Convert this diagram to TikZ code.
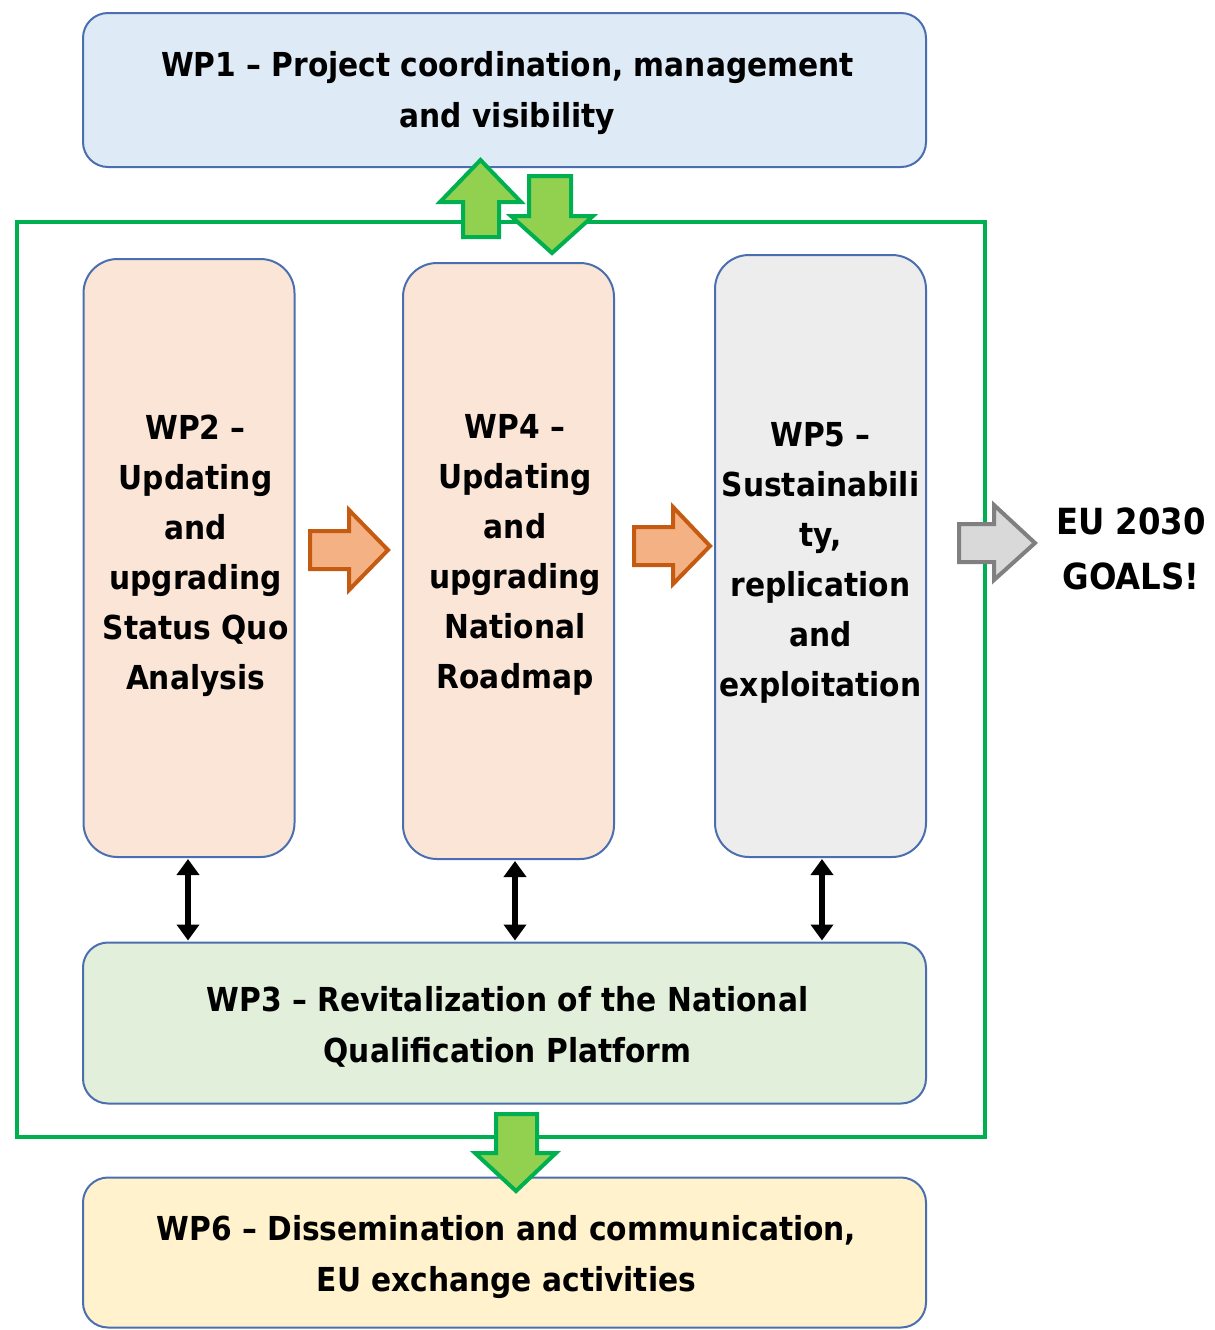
\documentclass[tikz,border=0pt]{standalone}
\usepackage{fontspec}
\setmainfont{DejaVu Sans Condensed}[BoldFont={DejaVu Sans Condensed Bold}]
\usetikzlibrary{arrows.meta}
\definecolor{bordblue}{RGB}{74,110,176}
\definecolor{wpone}{RGB}{222,235,247}
\definecolor{wporange}{RGB}{251,229,214}
\definecolor{wpgrey}{RGB}{237,237,237}
\definecolor{wpgreen}{RGB}{226,239,218}
\definecolor{wpyellow}{RGB}{255,242,204}
\definecolor{frgreen}{RGB}{0,176,80}
\definecolor{ltgreen}{RGB}{146,208,80}
\definecolor{orfill}{RGB}{244,177,131}
\definecolor{ordraw}{RGB}{197,90,17}
\definecolor{gyfill}{RGB}{217,217,217}
\definecolor{gydraw}{RGB}{128,128,128}
\tikzset{
  wptext/.style={font=\bfseries\fontsize{16.5pt}{25pt}\selectfont, align=center, text=black, inner sep=0pt},
  widetext/.style={wptext, font=\bfseries\fontsize{16.5pt}{25.5pt}\selectfont},
  wpbox/.style={draw=bordblue, line width=1pt, inner sep=0pt},
  widebox/.style={wpbox, rounded corners=12.5pt, minimum width=421.5pt},
  tallbox/.style={wpbox, rounded corners=17pt, minimum width=105.5pt},
  garrow/.style={fill=ltgreen, draw=frgreen, line width=2pt, line join=miter},
  oarrow/.style={fill=orfill, draw=ordraw, line width=2pt, line join=miter},
  gyarrow/.style={fill=gyfill, draw=gydraw, line width=2pt, line join=miter},
  dbl/.style={line width=2.8pt, {Triangle[width=11pt,length=8pt]}-{Triangle[width=11pt,length=8pt]}, shorten <=0.5pt, shorten >=0.5pt}
}
\begin{document}
\begin{tikzpicture}[x=0.5pt,y=-0.5pt]
\useasboundingbox (0,0) rectangle (1215,1330);
% green frame
\draw[frgreen, line width=2pt] (17,222) rectangle (985,1137);
% boxes
\node[widebox, fill=wpone, minimum height=77pt] (wp1) at (504.5,90) {};
\node[tallbox, fill=wporange, minimum height=299pt] (wp2) at (189,558) {};
\node[tallbox, fill=wporange, minimum height=298pt] (wp4) at (508.5,561) {};
\node[tallbox, fill=wpgrey, minimum height=301pt] (wp5) at (820.5,556) {};
\node[widebox, fill=wpgreen, minimum height=80.5pt] (wp3) at (504.5,1023) {};
\node[widebox, fill=wpyellow, minimum height=75pt] (wp6) at (504.5,1252.5) {};
% texts
\node[widetext] (t1) at ([xshift=1.5pt,yshift=-1.5pt]wp1.center) {WP1 -- Project coordination, management\\and visibility};
\node[wptext] (t2) at ([xshift=3.3pt,yshift=1pt]wp2.center) {WP2 --\\Updating\\and\\upgrading\\Status Quo\\Analysis};
\node[wptext] (t4) at ([xshift=3.3pt,yshift=3.2pt]wp4.center) {WP4 --\\Updating\\and\\upgrading\\National\\Roadmap};
\node[wptext] (t5) at ([yshift=-3.5pt]wp5.center) {WP5 --\\Sustainabili\\ty,\\replication\\and\\exploitation};
\node[widetext] (t3) at ([xshift=1.5pt,yshift=-1.8pt]wp3.center) {WP3 -- Revitalization of the National\\Qualification Platform};
\node[widetext] (t6) at ([xshift=1pt,yshift=-2.5pt]wp6.center) {WP6 -- Dissemination and communication,\\EU exchange activities};
\node[wptext, font=\bfseries\fontsize{18pt}{27.5pt}\selectfont] (goals) at (1131,549) {EU 2030\\GOALS!};
% double arrows
\coordinate (a2) at ([xshift=-0.5pt]wp2.south);
\coordinate (a4) at ([xshift=3.25pt]wp4.south);
\coordinate (a5) at ([xshift=0.75pt]wp5.south);
\draw[dbl] (a2) -- (a2 |- wp3.north);
\draw[dbl] (a4) -- (a4 |- wp3.north);
\draw[dbl] (a5) -- (a5 |- wp3.north);
% green arrows
\draw[garrow] (463,237) -- (463,202) -- (440,202) -- (480.5,160) -- (521,202) -- (499,202) -- (499,237) -- cycle;
\draw[garrow] (529,176) -- (571,176) -- (571,216) -- (593,216) -- (552,253) -- (511,216) -- (529,216) -- cycle;
\draw[garrow] (496,1114) -- (537,1114) -- (537,1153) -- (556,1153) -- (516,1191) -- (475,1153) -- (496,1153) -- cycle;
% orange arrows
\draw[oarrow] (310,531) -- (349,531) -- (349,510) -- (388,550) -- (349,590) -- (349,569) -- (310,569) -- cycle;
\draw[oarrow] (634,527) -- (673,527) -- (673,507) -- (710,546) -- (673,584) -- (673,565) -- (634,565) -- cycle;
% grey arrow
\draw[gyarrow] (959,524) -- (994,524) -- (994,505) -- (1035,543) -- (994,580) -- (994,562) -- (959,562) -- cycle;
\end{tikzpicture}
\end{document}
